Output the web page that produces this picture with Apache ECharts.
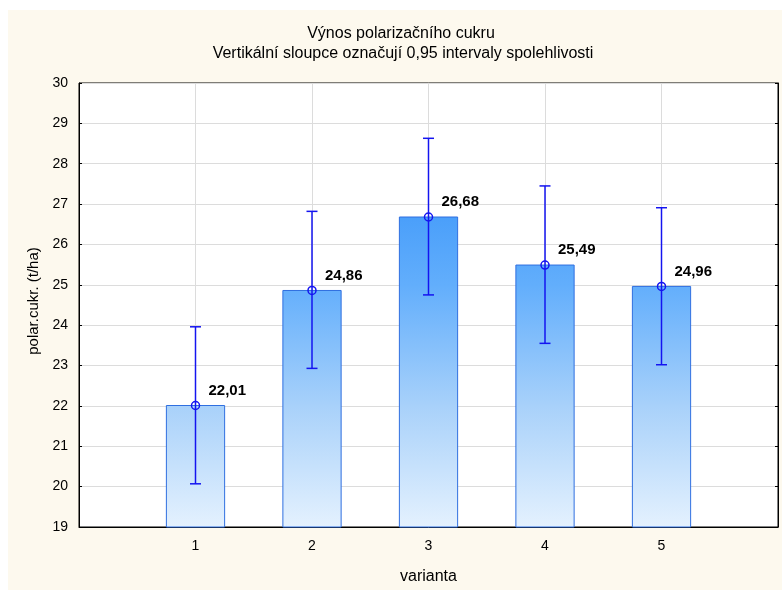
<!DOCTYPE html>
<html>
<head>
<meta charset="utf-8">
<script src="https://cdn.jsdelivr.net/npm/echarts@6/dist/echarts.min.js"></script>
<style>
html,body{margin:0;padding:0;background:#fff;}
#chart{width:782px;height:592px;}
</style>
</head>
<body>
<div id="chart"></div>
<script>
// ---- data ----
const categories = ['1', '2', '3', '4', '5'];
const means = [22.01, 24.86, 26.68, 25.49, 24.96];
const lowerCI = [20.07, 22.93, 24.75, 23.55, 23.02];
const upperCI = [23.96, 26.82, 28.63, 27.45, 26.91];
const meanLabels = ['22,01', '24,86', '26,68', '25,49', '24,96'];
const yMin = 19, yMax = 30;

const FONT = '"Liberation Sans", Arial, sans-serif';
const chart = echarts.init(document.getElementById('chart'));

const barData = categories.map((c, i) => [i + 1, means[i]]);
const errData = categories.map((c, i) => [i + 1, lowerCI[i], upperCI[i], means[i]]);

const option = {
  backgroundColor: '#ffffff',
  animation: false,
  graphic: [{
    type: 'rect', z: -10, silent: true,
    shape: { x: 8, y: 10, width: 774, height: 580 },
    style: { fill: '#fdf9ee' }
  }],
  title: [
    { text: 'Výnos polarizačního cukru', left: 401, top: 26, textAlign: 'center', padding: 0,
      textStyle: { fontFamily: FONT, fontSize: 16, fontWeight: 'normal', color: '#000' } },
    { text: 'Vertikální sloupce označují 0,95 intervaly spolehlivosti', left: 403, top: 46, textAlign: 'center', padding: 0,
      textStyle: { fontFamily: FONT, fontSize: 16, fontWeight: 'normal', color: '#000' } }
  ],
  grid: {
    left: 79, top: 83, right: 4, bottom: 65,
    show: true, backgroundColor: '#ffffff', borderColor: '#000', borderWidth: 1
  },
  xAxis: {
    type: 'value', min: 0, max: categories.length + 1, interval: 1,
    name: 'varianta', nameLocation: 'middle', nameGap: 42,
    nameTextStyle: { fontFamily: FONT, fontSize: 16, color: '#000' },
    axisLine: { lineStyle: { color: '#000', width: 1 } },
    axisTick: { inside: true, length: 3, lineStyle: { color: '#000' } },
    axisLabel: {
      fontFamily: FONT, fontSize: 14, color: '#000', margin: 12,
      formatter: v => (v >= 1 && v <= categories.length) ? categories[v - 1] : ''
    },
    splitLine: { show: true, lineStyle: { color: '#dcdcdc', width: 1 } }
  },
  yAxis: [{
    type: 'value', min: yMin, max: yMax, interval: 1,
    name: 'polar.cukr. (t/ha)', nameLocation: 'middle', nameGap: 38,
    nameTextStyle: { fontFamily: FONT, fontSize: 15, color: '#000', padding: [0, 0, 0, 8] },
    axisLine: { show: true, lineStyle: { color: '#000', width: 1 } },
    axisTick: { show: true, inside: true, length: 3, lineStyle: { color: '#000' } },
    axisLabel: { fontFamily: FONT, fontSize: 14, color: '#000', margin: 11 },
    splitLine: { show: true, lineStyle: { color: '#dcdcdc', width: 1 } }
  }, {
    type: 'value', min: yMin, max: yMax, interval: 1, position: 'right',
    axisLine: { show: true, lineStyle: { color: '#000', width: 1 } },
    axisTick: { show: true, inside: true, length: 3, lineStyle: { color: '#000' } },
    axisLabel: { show: false },
    splitLine: { show: false }
  }],
  series: [{
    type: 'custom',
    data: barData,
    z: 2,
    renderItem: function (params, api) {
      const x = api.value(0), v = api.value(1);
      const top = api.coord([x, v]);
      const base = api.coord([x, yMin]);
      const w = api.size([1, 0])[0] * 0.5;
      const g0 = api.coord([x, yMin])[1];
      const g1 = api.coord([x, 27])[1];
      return {
        type: 'rect',
        shape: { x: top[0] - w / 2, y: top[1], width: w, height: base[1] - top[1] },
        style: {
          fill: {
            type: 'linear', global: true, x: 0, y: g0, x2: 0, y2: g1,
            colorStops: [
              { offset: 0, color: '#e4f1fe' },
              { offset: 0.375, color: '#a8d1fa' },
              { offset: 0.75, color: '#62aefc' },
              { offset: 0.9625, color: '#4a9ffa' },
              { offset: 1, color: '#4a9ffa' }
            ]
          },
          stroke: '#2f6fe0', lineWidth: 1
        }
      };
    }
  }, {
    type: 'custom',
    data: errData,
    z: 3,
    renderItem: function (params, api) {
      const x = api.value(0);
      const lo = api.coord([x, api.value(1)]);
      const hi = api.coord([x, api.value(2)]);
      const m = api.coord([x, api.value(3)]);
      const cap = 5.5;
      const col = '#1414f0';
      return {
        type: 'group',
        children: [
          { type: 'line', shape: { x1: hi[0], y1: hi[1], x2: lo[0], y2: lo[1] }, style: { stroke: col, lineWidth: 1.5 } },
          { type: 'line', shape: { x1: hi[0] - cap, y1: hi[1], x2: hi[0] + cap, y2: hi[1] }, style: { stroke: col, lineWidth: 1.5 } },
          { type: 'line', shape: { x1: lo[0] - cap, y1: lo[1], x2: lo[0] + cap, y2: lo[1] }, style: { stroke: col, lineWidth: 1.5 } },
          { type: 'circle', shape: { cx: m[0], cy: m[1], r: 4 }, style: { fill: 'none', stroke: col, lineWidth: 1.5 } },
          { type: 'text', x: m[0] + 13, y: m[1] - 15,
            style: { text: meanLabels[params.dataIndex], fill: '#000', font: 'bold 15px ' + FONT,
                     textAlign: 'left', textVerticalAlign: 'middle' } }
        ]
      };
    }
  }]
};
chart.setOption(option);
</script>
</body>
</html>
